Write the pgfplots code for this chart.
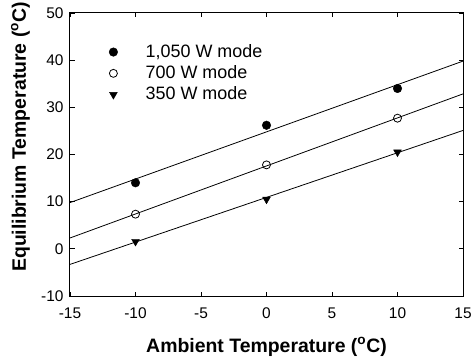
\documentclass[border=0pt]{standalone}
\usepackage{fontspec}
\setmainfont{Liberation Sans}
\usepackage{pgfplots}
\pgfplotsset{compat=1.18}
\begin{document}
\begin{tikzpicture}
\useasboundingbox (-70bp,-65bp) rectangle (403bp,296bp);
\begin{axis}[
  at={(0,0)}, anchor=south west,
  scale only axis, width=393bp, height=283bp,
  xmin=-15, xmax=15, ymin=-10, ymax=50,
  xtick={-15,-10,...,15}, ytick={-10,0,...,50},
  tick align=inside, major tick length=4.5bp,
  every tick/.style={black, line width=0.8bp},
  axis line style={line width=1bp},
  /pgf/number format/assume math mode=true,
  tick label style={font=\fontsize{15.5}{18}\selectfont},
  xticklabel style={anchor=base, yshift=-22bp},
  yticklabel style={xshift=-3bp},
  xlabel={Ambient Temperature (\textsuperscript{o}C)},
  ylabel={Equilibrium Temperature (\textsuperscript{o}C)},
  label style={font=\bfseries\fontsize{19.5}{23}\selectfont},
  xlabel style={at={(axis description cs:0.5,-0.1979)}, anchor=base},
  ylabel style={at={(axis description cs:-0.112,0.562)}, anchor=base},
  legend style={draw=none, fill=none, at={(axis description cs:0.099,0.891)}, anchor=north west,
    inner sep=0pt, row sep=5.3bp, column sep=28bp, font=\fontsize{18}{21}\selectfont,
    nodes={inner sep=0pt, text depth=3bp, text height=13bp}},
  legend cell align=left,
  legend image code/.code={\draw[#1] plot coordinates {(0bp,0bp)};},
]
\addplot[only marks, mark=*, mark size=4.3bp, black] coordinates {(-10,14.0) (0,26.2) (10,34.0)};
\addlegendentry{1,050 W mode}
\addplot[only marks, mark=o, mark size=4bp, black, mark options={line width=0.8bp}] coordinates {(-10,7.35) (0,17.8) (10,27.7)};
\addlegendentry{700 W mode}
\addplot[only marks, mark=triangle*, mark size=4.5bp, black, mark options={rotate=180}] coordinates {(-10,1.55) (0,10.5) (10,20.5)};
\addlegendentry{350 W mode}
\addplot[black, line width=0.8bp, forget plot] coordinates {(-15,9.8) (15,39.8)};
\addplot[black, line width=0.8bp, forget plot] coordinates {(-15,2.3) (15,32.85)};
\addplot[black, line width=0.8bp, forget plot] coordinates {(-15,-3.3) (15,25.1)};
\end{axis}
\end{tikzpicture}
\end{document}
